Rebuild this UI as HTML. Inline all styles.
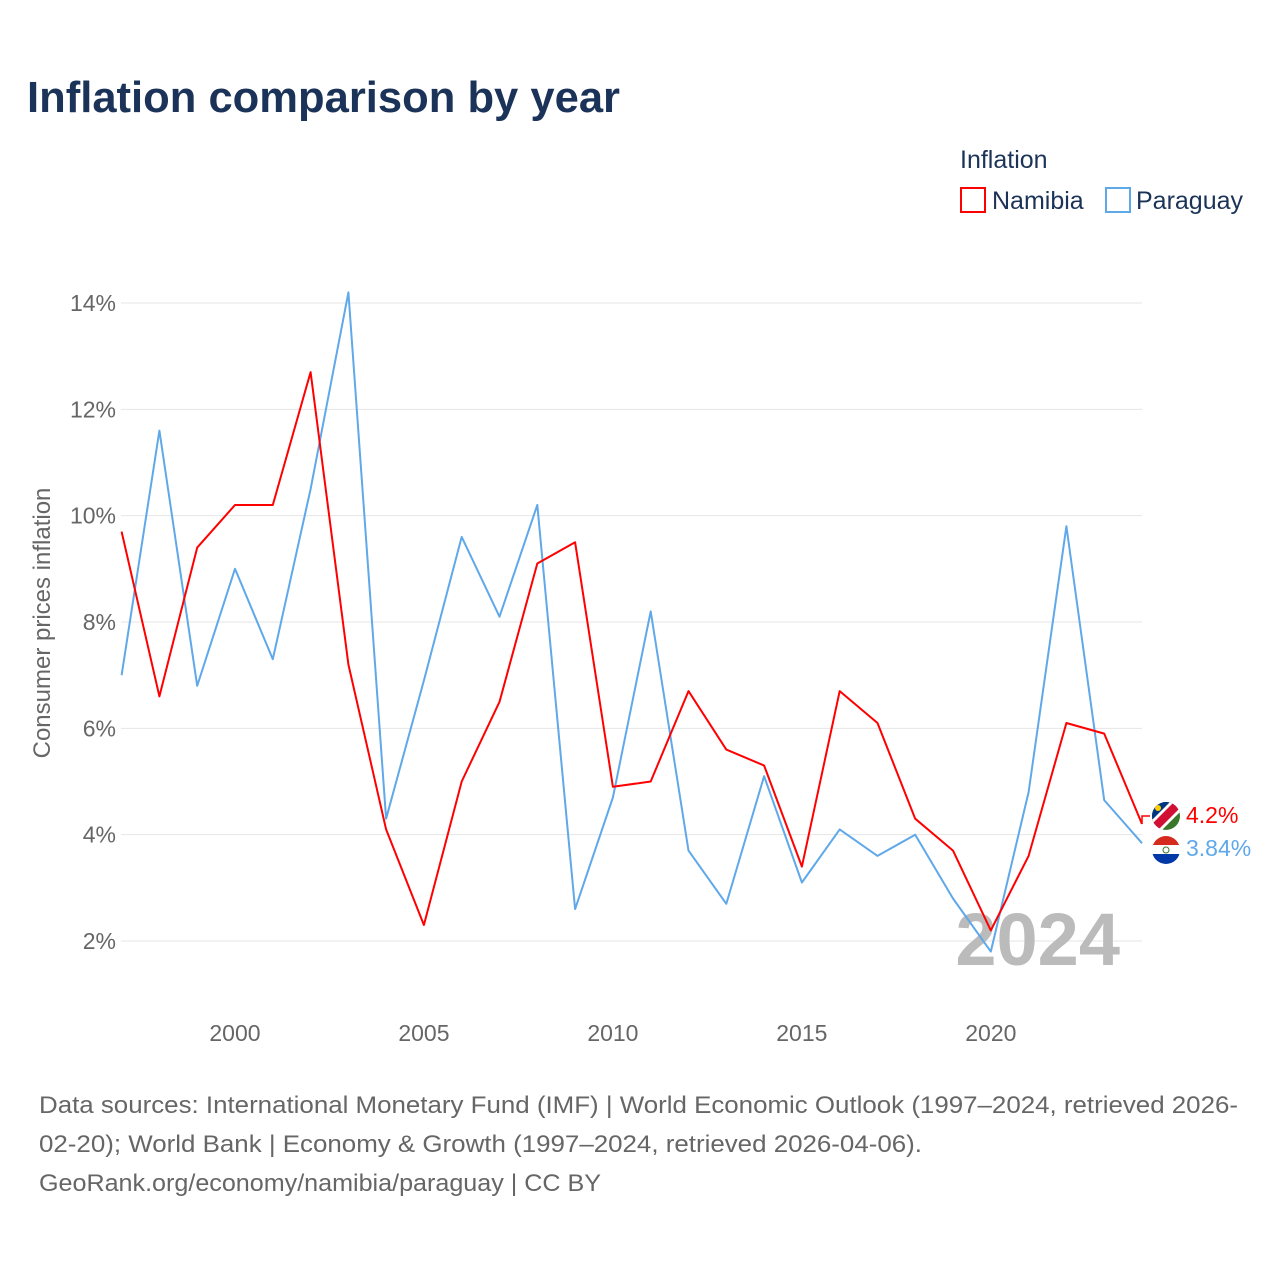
<!DOCTYPE html>
<html><head><meta charset="utf-8"><style>
body{margin:0;width:1280px;height:1280px;background:#fff;font-family:"Liberation Sans",sans-serif;overflow:hidden}
</style></head><body>
<svg width="1280" height="1280" xmlns="http://www.w3.org/2000/svg">
<text x="27" y="112" font-size="44" font-weight="bold" fill="#1b3358" textLength="593" lengthAdjust="spacingAndGlyphs">Inflation comparison by year</text>
<text x="960" y="168" font-size="25" fill="#1b3358">Inflation</text>
<g><rect x="961" y="188" width="24" height="24" fill="none" stroke="#f00" stroke-width="2"/><text x="992" y="209" font-size="25" fill="#1b3358">Namibia</text></g>
<g><rect x="1106" y="188" width="24" height="24" fill="none" stroke="#5fa8ea" stroke-width="2"/><text x="1136" y="209" font-size="25" fill="#1b3358">Paraguay</text></g>
<g id="grid"></g><g id="yt"></g><g id="xt"></g>
<text transform="translate(50,623) rotate(-90)" text-anchor="middle" font-size="24" fill="#666">Consumer prices inflation</text>
<text x="1120" y="965" text-anchor="end" font-size="74" font-weight="bold" fill="#bbb">2024</text>
<g id="series"></g>
<g><clipPath id="c1"><circle cx="1166" cy="816" r="14"/></clipPath><g clip-path="url(#c1)"><rect x="1150" y="800" width="32" height="32" fill="#3a7728"/><polygon points="1150,800 1182,800 1150,832" fill="#003580"/><polygon points="1146,826 1176,796 1186,806 1156,836" fill="#fff"/><polygon points="1148,828 1178,798 1184,804 1154,834" fill="#d21034"/><circle cx="1158" cy="808" r="3" fill="#ffce00"/></g></g>
<g><clipPath id="c2"><circle cx="1166" cy="850" r="14"/></clipPath><g clip-path="url(#c2)"><rect x="1150" y="836" width="32" height="10" fill="#d52b1e"/><rect x="1150" y="845" width="32" height="10" fill="#fff"/><rect x="1150" y="854" width="32" height="12" fill="#0038a8"/><circle cx="1166" cy="850" r="3" fill="none" stroke="#3a7728" stroke-width="1"/></g></g>
<text x="1186" y="823" font-size="23" fill="#f00">4.2%</text>
<text x="1186" y="856" font-size="23" fill="#5fa8ea">3.84%</text>
<text font-size="24" fill="#666"><tspan x="39" y="1113" textLength="1199" lengthAdjust="spacingAndGlyphs">Data sources: International Monetary Fund (IMF) | World Economic Outlook (1997–2024, retrieved 2026-</tspan><tspan x="39" y="1152" textLength="883" lengthAdjust="spacingAndGlyphs">02-20); World Bank | Economy &amp; Growth (1997–2024, retrieved 2026-04-06).</tspan><tspan x="39" y="1191" textLength="562" lengthAdjust="spacingAndGlyphs">GeoRank.org/economy/namibia/paraguay | CC BY</tspan></text>
</svg>
<script>
const years=[1997,1998,1999,2000,2001,2002,2003,2004,2005,2006,2007,2008,2009,2010,2011,2012,2013,2014,2015,2016,2017,2018,2019,2020,2021,2022,2023,2024];
const namibia=[9.7,6.6,9.4,10.2,10.2,12.7,7.2,4.1,2.3,5.0,6.5,9.1,9.5,4.9,5.0,6.7,5.6,5.3,3.4,6.7,6.1,4.3,3.7,2.2,3.6,6.1,5.9,4.2];
const paraguay=[7.0,11.6,6.8,9.0,7.3,10.5,14.2,4.3,6.9,9.6,8.1,10.2,2.6,4.7,8.2,3.7,2.7,5.1,3.1,4.1,3.6,4.0,2.8,1.8,4.8,9.8,4.65,3.84];
const yTicks=[2,4,6,8,10,12,14];
const xTicks=[2000,2005,2010,2015,2020];
const endConnector=[4.2,4.35];
const NS="http://www.w3.org/2000/svg";
const X=v=>121.6+(v-1997)*(1142-121.6)/27;
const Y=v=>941-(v-2)*(941-303)/12;
function mk(t,a,p){const e=document.createElementNS(NS,t);for(const k in a)e.setAttribute(k,a[k]);document.getElementById(p).appendChild(e);return e;}
yTicks.forEach(v=>{
 const l=mk('line',{x1:121,x2:1142,y1:Y(v),y2:Y(v),stroke:'#e6e6e6','stroke-width':1},'grid');
 
 
 const t=mk('text',{x:116,y:Y(v)+8,'text-anchor':'end','font-size':23,fill:'#666'},'yt');t.textContent=v+'%';
 
 
});
xTicks.forEach(v=>{
 const t=mk('text',{x:X(v),y:1041,'text-anchor':'middle','font-size':23,fill:'#666'},'xt');t.textContent=v;
 
 
});
function line(d,c,n){
 const p=mk('path',{d:d.map((v,i)=>(i?'L':'M')+X(years[i]).toFixed(1)+','+Y(v).toFixed(1)).join(''),fill:'none',stroke:c,'stroke-width':2,'stroke-linejoin':'round'},'series');
 
 
}
line(paraguay,'#5fa8ea','line-paraguay');
line(namibia,'#f00','line-namibia');
const cn=mk('path',{d:'M'+X(2024)+','+Y(endConnector[0])+'L'+X(2024)+','+Y(endConnector[1])+'L'+(X(2024)+8)+','+Y(endConnector[1]),fill:'none',stroke:'#f00','stroke-width':1.5},'series');


</script>
</body></html>
